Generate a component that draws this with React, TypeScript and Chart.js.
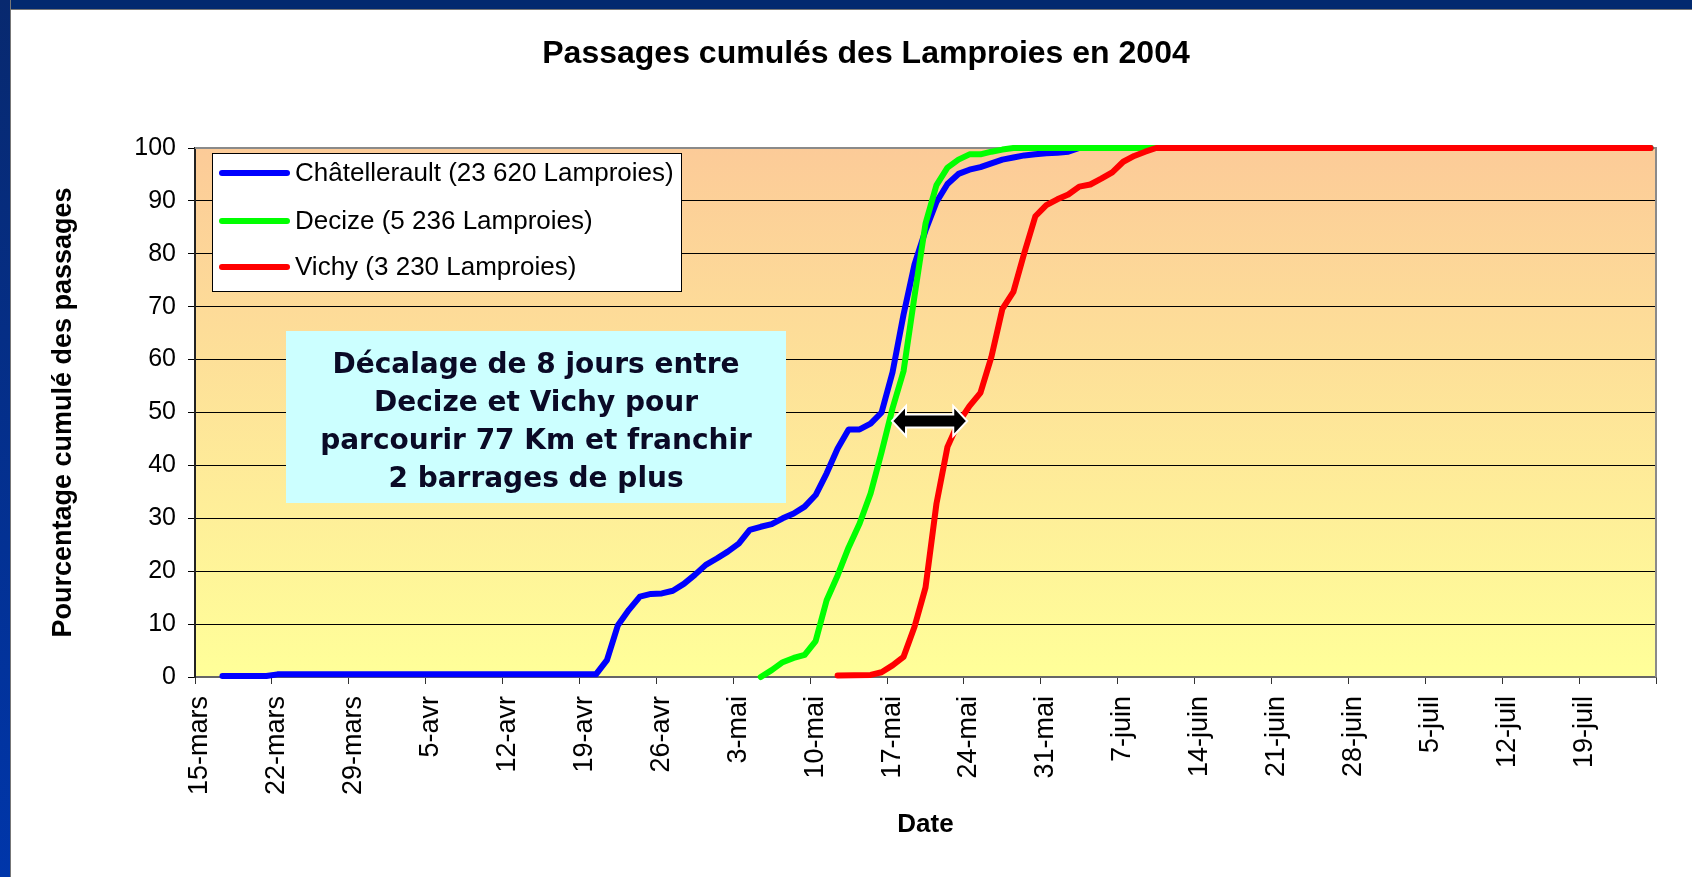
import React, { useEffect, useRef } from 'react';
import { Chart, registerables } from 'chart.js';

Chart.register(...registerables);

// ---------- data ----------
const chartTitle = 'Passages cumulés des Lamproies en 2004';
const xAxisTitle = 'Date';
const yAxisTitle = 'Pourcentage cumulé des passages';

// weekly tick labels (day index 0 = 15 mars); last tick closes the axis without label
const tickLabels = [
  '15-mars', '22-mars', '29-mars', '5-avr', '12-avr', '19-avr', '26-avr', '3-mai',
  '10-mai', '17-mai', '24-mai', '31-mai', '7-juin', '14-juin', '21-juin', '28-juin',
  '5-juil', '12-juil', '19-juil', '',
];

const seriesNames = [
  'Châtellerault (23 620 Lamproies)',
  'Decize (5 236 Lamproies)',
  'Vichy (3 230 Lamproies)',
];
const seriesColors = ['#0000FF', '#00FF00', '#FF0000'];

// day index (days after 15 mars) and cumulative percentage
const chatDays = [2, 6, 7, 36, 37, 38, 39, 40, 41, 42, 43, 44, 45, 46, 47, 48, 49, 50, 51, 52, 53, 54, 55, 56, 57, 58, 59, 60, 61, 62, 63, 64, 65, 66, 67, 68, 69, 70, 71, 72, 73, 74, 75, 76, 77, 78, 79, 80, 132];
const chatValues = [0.2, 0.2, 0.5, 0.5, 3.2, 9.8, 12.7, 15.2, 15.7, 15.8, 16.3, 17.6, 19.3, 21.2, 22.4, 23.7, 25.2, 27.8, 28.4, 28.9, 30.0, 30.9, 32.2, 34.4, 38.5, 43.2, 46.8, 46.8, 47.9, 50.0, 57.6, 68.5, 78.0, 84.4, 89.8, 93.2, 95.1, 95.9, 96.4, 97.1, 97.8, 98.2, 98.6, 98.8, 99.0, 99.1, 99.3, 100, 100];

const decizeDays = [51, 52, 53, 54, 55, 56, 57, 58, 59, 60, 61, 62, 63, 64, 65, 66, 67, 68, 69, 70, 71, 72, 73, 74, 132];
const decizeValues = [0, 1.3, 2.8, 3.6, 4.2, 6.8, 14.5, 19.2, 24.5, 29.0, 34.7, 42.5, 50.8, 57.8, 72.0, 85.7, 93.0, 96.3, 97.8, 98.8, 98.8, 99.3, 99.7, 100, 100];

const vichyDays = [58, 61, 62, 63, 64, 65, 66, 67, 68, 69, 70, 71, 72, 73, 74, 75, 76, 77, 78, 79, 80, 81, 82, 83, 84, 85, 86, 87, 132];
const vichyValues = [0.3, 0.4, 0.9, 2.2, 3.8, 9.5, 16.9, 32.8, 43.5, 48.1, 51.2, 53.7, 60.5, 69.6, 72.8, 80.2, 87.1, 89.2, 90.3, 91.2, 92.7, 93.1, 94.2, 95.4, 97.4, 98.5, 99.3, 100, 100];

const annotationLines = [
  'Décalage de 8 jours entre',
  'Decize et Vichy pour',
  'parcourir 77 Km et franchir',
  '2 barrages de plus',
];
// double arrow between Decize and Vichy around 50 %
const arrowFrom = 62.95;
const arrowTo = 69.8;
const arrowLevel = 48.4;

const FONT = "'Liberation Sans', Arial, sans-serif";

const decorPlugin = {
  id: 'decor',
  beforeDraw(chart: any) {
    const { ctx, chartArea: a } = chart;
    ctx.save();
    const g = ctx.createLinearGradient(0, a.top, 0, a.bottom);
    g.addColorStop(0, '#FCCB98');
    g.addColorStop(1, '#FFFF99');
    ctx.fillStyle = g;
    ctx.fillRect(a.left, a.top, a.right - a.left, a.bottom - a.top);
    ctx.restore();
  },
  beforeDatasetsDraw(chart: any) {
    const { ctx, chartArea: a } = chart;
    ctx.save();
    ctx.strokeStyle = '#8a8a8a';
    ctx.lineWidth = 2;
    ctx.beginPath();
    ctx.moveTo(a.left, a.top);
    ctx.lineTo(a.right, a.top);
    ctx.lineTo(a.right, a.bottom);
    ctx.stroke();
    ctx.restore();
  },
  afterDatasetsDraw(chart: any) {
    const { ctx, chartArea: a, scales } = chart;
    ctx.save();
    // legend box
    const bx = a.left + 17;
    const by = a.top + 5;
    const bw = 469;
    const bh = 138;
    ctx.fillStyle = '#ffffff';
    ctx.fillRect(bx, by, bw, bh);
    ctx.strokeStyle = '#000';
    ctx.lineWidth = 1;
    ctx.strokeRect(bx + 0.5, by + 0.5, bw, bh);
    const rows = [20, 68, 114];
    chart.data.datasets.forEach((ds: any, i: number) => {
      const y = by + rows[i];
      ctx.strokeStyle = ds.borderColor;
      ctx.lineWidth = 6;
      ctx.lineCap = 'round';
      ctx.beginPath();
      ctx.moveTo(bx + 10, y);
      ctx.lineTo(bx + 75, y);
      ctx.stroke();
      ctx.fillStyle = '#000';
      ctx.font = `26px ${FONT}`;
      ctx.textAlign = 'left';
      ctx.textBaseline = 'middle';
      ctx.fillText(ds.label, bx + 83, y + 1);
    });

    // annotation box
    const ax = a.left + 91;
    const ay = a.top + 183;
    const aw = 500;
    const ah = 172;
    ctx.fillStyle = '#CCFFFF';
    ctx.fillRect(ax, ay, aw, ah);
    ctx.fillStyle = '#0a0a26';
    ctx.font = `bold 28px 'DejaVu Sans', Verdana, sans-serif`;
    ctx.textAlign = 'center';
    ctx.textBaseline = 'alphabetic';
    annotationLines.forEach((t, i) => {
      ctx.fillText(t, ax + aw / 2, a.top + 225 + i * 38);
    });

    // double arrow
    const x1 = scales.x.getPixelForValue(arrowFrom);
    const x2 = scales.x.getPixelForValue(arrowTo);
    const yc = scales.y.getPixelForValue(arrowLevel);
    const hl = 14;
    const hh = 15;
    const sh = 6.5;
    ctx.beginPath();
    ctx.moveTo(x1, yc);
    ctx.lineTo(x1 + hl, yc - hh);
    ctx.lineTo(x1 + hl, yc - sh);
    ctx.lineTo(x2 - hl, yc - sh);
    ctx.lineTo(x2 - hl, yc - hh);
    ctx.lineTo(x2, yc);
    ctx.lineTo(x2 - hl, yc + hh);
    ctx.lineTo(x2 - hl, yc + sh);
    ctx.lineTo(x1 + hl, yc + sh);
    ctx.lineTo(x1 + hl, yc + hh);
    ctx.closePath();
    ctx.fillStyle = '#000';
    ctx.fill();
    ctx.strokeStyle = '#fff';
    ctx.lineWidth = 2;
    ctx.lineJoin = 'miter';
    ctx.stroke();
    ctx.restore();
  },
  afterDraw(chart: any) {
    const { ctx } = chart;
    ctx.save();
    ctx.fillStyle = '#000';
    ctx.font = `bold 32px ${FONT}`;
    ctx.textAlign = 'center';
    ctx.textBaseline = 'alphabetic';
    ctx.fillText(chartTitle, 866, 63);
    ctx.restore();
  },
};

function makeSeries(days: number[], values: number[]) {
  return days.map((d, i) => ({ x: d, y: values[i] }));
}

export default function App() {
  const ref = useRef<HTMLCanvasElement>(null);

  useEffect(() => {
    const canvas = ref.current;
    if (!canvas) return;
    const common = {
      borderWidth: 6,
      pointRadius: 0,
      tension: 0,
      borderCapStyle: 'round',
      borderJoinStyle: 'round',
      fill: false,
      clip: 4,
    };
    const chart = new Chart(canvas, {
      type: 'line',
      data: {
        datasets: [
          { ...common, label: seriesNames[0], borderColor: seriesColors[0], backgroundColor: seriesColors[0], data: makeSeries(chatDays, chatValues), order: 2 },
          { ...common, label: seriesNames[1], borderColor: seriesColors[1], backgroundColor: seriesColors[1], data: makeSeries(decizeDays, decizeValues), order: 1 },
          { ...common, label: seriesNames[2], borderColor: seriesColors[2], backgroundColor: seriesColors[2], data: makeSeries(vichyDays, vichyValues), order: 0 },
        ] as any,
      },
      options: {
        responsive: false,
        devicePixelRatio: 1,
        animation: false,
        events: [],
        layout: { padding: { left: 20, top: 148, right: 36, bottom: 10 } },
        plugins: {
          legend: { display: false },
          tooltip: { enabled: false },
          title: { display: false },
        },
        scales: {
          x: {
            type: 'linear',
            min: -0.5,
            max: 132.5,
            afterBuildTicks: (s: any) => {
              s.ticks = tickLabels.map((_, i) => ({ value: i * 7 - 0.5 }));
            },
            afterFit: (s: any) => {
              s.height = 190;
              s.paddingLeft = 0;
              s.paddingRight = 0;
            },
            ticks: {
              autoSkip: false,
              minRotation: 90,
              maxRotation: 90,
              padding: 12,
              labelOffset: 5,
              color: '#000',
              font: { family: FONT, size: 27 },
              callback: (_v: any, i: number) => tickLabels[i],
            },
            grid: { drawOnChartArea: false, drawTicks: true, tickLength: 7, color: '#333', lineWidth: 1 },
            border: { display: true, color: '#666', width: 2 },
            title: {
              display: true,
              text: xAxisTitle,
              color: '#000',
              font: { family: FONT, size: 26, weight: 'bold' },
              padding: { top: 0, bottom: 27 },
            },
          },
          y: {
            min: 0,
            max: 100,
            afterFit: (s: any) => {
              s.width = 175;
            },
            ticks: { stepSize: 10, padding: 12, color: '#000', font: { family: FONT, size: 25 } },
            grid: { color: '#000', lineWidth: 1, tickLength: 7, drawTicks: true },
            border: { display: true, color: '#222', width: 2 },
            title: {
              display: true,
              text: yAxisTitle,
              color: '#000',
              font: { family: FONT, size: 27, weight: 'bold' },
              padding: { top: 27, bottom: 0 },
            },
          },
        },
      } as any,
      plugins: [decorPlugin],
    });
    return () => chart.destroy();
  }, []);

  return (
    <div style={{ position: 'fixed', left: 0, top: 0, width: 1692, height: 877, background: '#fff', overflow: 'hidden' }}>
      <div style={{ position: 'absolute', left: 0, top: 0, width: 1692, height: 9, background: '#02296f', borderBottom: '1px solid #777' }} />
      <div style={{ position: 'absolute', left: 0, top: 0, width: 10, height: 877, background: 'linear-gradient(#08296f, #0036aa)', borderRight: '1px solid #777' }} />
      <canvas ref={ref} width={1692} height={877} style={{ position: 'absolute', left: 0, top: 0, width: 1692, height: 877 }} />
    </div>
  );
}
